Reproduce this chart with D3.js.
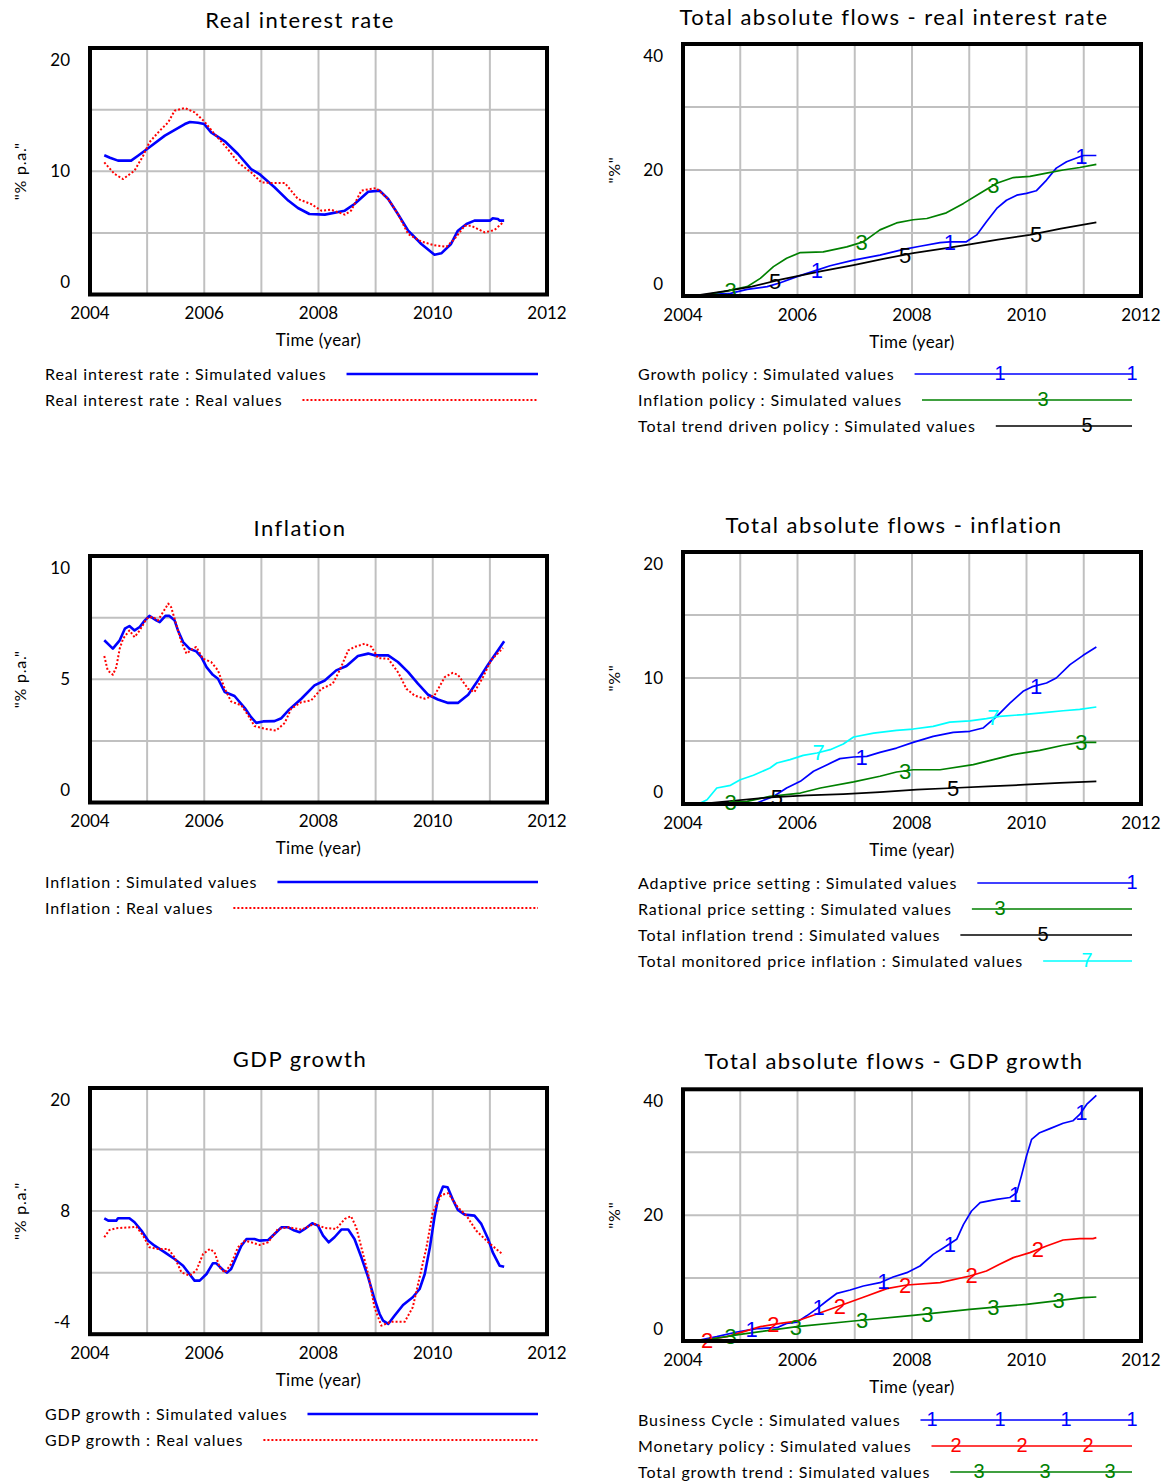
<!DOCTYPE html>
<html>
<head>
<meta charset="utf-8">
<script src="https://cdn.jsdelivr.net/npm/d3@7"></script>
<style>
  body { margin: 0; background: #fff; }
  text { font-family: Lato, "Open Sans", sans-serif; fill: #000; }
  .digit { font-family: "Liberation Sans", Arial, sans-serif; }
</style>
</head>
<body>
<svg id="chart" width="1168" height="1483"></svg>
<script>
// ---- axis labels ----
const xTickLabels = [2004, 2006, 2008, 2010, 2012];
const yTicksRate = ["20", "10", "0"];
const yTicksFlows40 = ["40", "20", "0"];
const yTicksInflation = ["10", "5", "0"];
const yTicksFlows20 = ["20", "10", "0"];
const yTicksGdp = ["20", "8", "-4"];

// ---- Real interest rate (% p.a.) ----
const realRateSim = [[2004.25,11.3],[2004.35,11.1],[2004.49,10.86],[2004.72,10.86],[2004.84,11.26],[2005.0,11.8],[2005.31,12.89],[2005.66,13.83],[2005.75,14.0],[2005.89,13.94],[2006.0,13.83],[2006.12,13.16],[2006.36,12.43],[2006.59,11.4],[2006.82,10.18],[2006.98,9.72],[2007.23,8.7],[2007.47,7.62],[2007.64,7.02],[2007.84,6.53],[2008.11,6.48],[2008.46,6.8],[2008.63,7.34],[2008.87,8.34],[2009.07,8.43],[2009.22,7.75],[2009.39,6.53],[2009.57,5.18],[2009.8,4.1],[2010.03,3.23],[2010.15,3.34],[2010.32,4.1],[2010.44,5.18],[2010.59,5.72],[2010.73,5.99],[2011.0,5.99],[2011.05,6.18],[2011.14,6.13],[2011.17,5.99],[2011.25,5.99]];
const realRateReal = [[2004.25,10.72],[2004.43,9.78],[2004.58,9.37],[2004.78,10.05],[2004.93,11.26],[2005.04,12.35],[2005.22,13.29],[2005.37,13.97],[2005.48,14.91],[2005.66,15.13],[2005.83,14.78],[2006.0,14.05],[2006.18,13.02],[2006.41,11.81],[2006.59,10.72],[2006.82,9.91],[2007.0,9.1],[2007.17,9.05],[2007.41,9.05],[2007.64,7.75],[2007.87,7.34],[2008.05,6.8],[2008.22,6.88],[2008.46,6.48],[2008.57,6.8],[2008.75,8.43],[2009.01,8.64],[2009.22,7.75],[2009.39,6.53],[2009.57,4.9],[2009.8,4.3],[2010.03,3.99],[2010.24,3.88],[2010.38,4.5],[2010.56,5.58],[2010.67,5.58],[2010.91,5.04],[2011.08,5.23],[2011.23,5.85]];

// ---- Total absolute flows - real interest rate (%) ----
const growthPolicy = [[2004.27,0.16],[2004.83,0.42],[2005.12,1.06],[2005.47,1.48],[2005.70,2.1],[2005.99,3.07],[2006.34,4.1],[2006.57,4.8],[2006.98,5.7],[2007.44,6.5],[2007.85,7.4],[2008.14,7.9],[2008.49,8.47],[2008.66,8.6],[2008.95,8.6],[2009.13,9.7],[2009.30,11.8],[2009.48,13.9],[2009.65,15.2],[2009.83,16.0],[2010.0,16.3],[2010.17,16.7],[2010.35,18.4],[2010.52,20.3],[2010.70,21.3],[2010.93,22.1],[2011.0,22.3],[2011.22,22.3]];
const inflationPolicy = [[2004.27,0],[2004.71,0.7],[2005.12,1.48],[2005.35,2.8],[2005.58,4.66],[2005.81,6.0],[2006.05,6.9],[2006.45,7.0],[2006.86,7.8],[2007.15,8.6],[2007.44,10.5],[2007.73,11.6],[2008.02,12.1],[2008.26,12.3],[2008.6,13.2],[2008.9,14.7],[2009.19,16.3],[2009.48,17.9],[2009.77,18.8],[2010.06,19.0],[2010.35,19.5],[2010.64,20.0],[2010.93,20.4],[2011.22,20.9]];
const trendPolicy = [[2004.27,0.15],[2004.8,0.85],[2005.2,1.5],[2005.7,2.6],[2006.4,3.9],[2006.98,4.9],[2007.5,5.9],[2008.02,6.8],[2008.6,7.6],[2009.01,8.2],[2009.5,8.95],[2010.06,9.7],[2010.6,10.7],[2011.22,11.7]];

// ---- Inflation (% p.a.) ----
const inflationSim = [[2004.25,6.58],[2004.40,6.24],[2004.52,6.58],[2004.61,7.05],[2004.69,7.16],[2004.78,6.98],[2004.87,7.12],[2004.96,7.39],[2005.04,7.57],[2005.16,7.39],[2005.22,7.32],[2005.32,7.57],[2005.39,7.57],[2005.48,7.39],[2005.54,6.98],[2005.63,6.51],[2005.74,6.24],[2005.86,6.13],[2005.95,5.9],[2006.04,5.49],[2006.15,5.18],[2006.24,5.02],[2006.36,4.48],[2006.53,4.32],[2006.71,3.83],[2006.82,3.46],[2006.91,3.23],[2007.03,3.29],[2007.23,3.3],[2007.35,3.42],[2007.47,3.73],[2007.70,4.21],[2007.93,4.75],[2008.11,4.95],[2008.31,5.36],[2008.49,5.54],[2008.69,5.94],[2008.87,6.04],[2008.98,5.97],[2009.22,5.97],[2009.39,5.7],[2009.57,5.29],[2009.74,4.82],[2009.92,4.37],[2010.09,4.18],[2010.27,4.04],[2010.44,4.04],[2010.62,4.37],[2010.79,4.95],[2010.97,5.6],[2011.14,6.17],[2011.25,6.54]];
const inflationReal = [[2004.25,5.94],[2004.31,5.36],[2004.40,5.18],[2004.46,5.49],[2004.52,6.24],[2004.58,6.65],[2004.69,6.98],[2004.78,6.71],[2004.87,6.98],[2004.99,7.46],[2005.10,7.53],[2005.19,7.39],[2005.28,7.73],[2005.37,8.07],[2005.42,7.93],[2005.48,7.46],[2005.60,6.51],[2005.69,6.04],[2005.80,6.24],[2005.86,6.31],[2005.98,5.83],[2006.12,5.7],[2006.24,5.36],[2006.36,4.61],[2006.47,4.1],[2006.65,3.94],[2006.77,3.53],[2006.88,3.1],[2007.06,2.99],[2007.26,2.92],[2007.41,3.23],[2007.52,3.8],[2007.70,4.07],[2007.87,4.14],[2008.05,4.61],[2008.25,4.82],[2008.37,5.36],[2008.52,6.17],[2008.63,6.31],[2008.81,6.44],[2008.93,6.31],[2009.04,5.86],[2009.22,5.83],[2009.39,5.29],[2009.54,4.61],[2009.68,4.34],[2009.86,4.21],[2010.03,4.34],[2010.21,5.09],[2010.35,5.26],[2010.44,5.18],[2010.62,4.61],[2010.73,4.48],[2010.88,5.09],[2011.02,5.77],[2011.23,6.27]];

// ---- Total absolute flows - inflation (%) ----
const adaptivePrice = [[2004.27,0],[2005.29,0.08],[2005.58,0.6],[2005.81,1.27],[2006.05,1.8],[2006.28,2.6],[2006.51,3.1],[2006.74,3.6],[2006.98,3.73],[2007.21,3.78],[2007.44,4.1],[2007.73,4.44],[2008.02,4.89],[2008.37,5.37],[2008.72,5.69],[2009.01,5.77],[2009.24,6.03],[2009.48,6.96],[2009.71,8.0],[2009.94,8.94],[2010.12,9.34],[2010.35,9.6],[2010.52,10.0],[2010.76,11.06],[2010.99,11.8],[2011.22,12.46]];
const rationalPrice = [[2004.27,0],[2005.12,0.21],[2005.52,0.6],[2006.05,0.87],[2006.40,1.27],[2006.98,1.75],[2007.44,2.2],[2007.73,2.54],[2008.02,2.72],[2008.49,2.72],[2009.07,3.12],[2009.42,3.52],[2009.77,3.92],[2010.23,4.26],[2010.64,4.66],[2010.93,4.89],[2011.22,4.89]];
const inflationTrend = [[2004.27,0],[2005.52,0.53],[2006.16,0.69],[2006.80,0.79],[2007.44,0.95],[2008.08,1.14],[2008.72,1.27],[2009.33,1.4],[2009.97,1.53],[2010.58,1.67],[2011.22,1.8]];
const monitoredPrice = [[2004.27,0],[2004.42,0.34],[2004.59,1.27],[2004.83,1.48],[2005.0,1.93],[2005.23,2.28],[2005.52,2.86],[2005.64,3.25],[2005.87,3.52],[2006.1,3.86],[2006.34,4.05],[2006.57,4.31],[2006.80,4.76],[2006.98,5.32],[2007.33,5.63],[2007.73,5.85],[2008.02,5.95],[2008.37,6.16],[2008.66,6.5],[2009.01,6.6],[2009.3,6.77],[2009.53,6.96],[2009.94,7.09],[2010.35,7.27],[2010.64,7.4],[2010.93,7.51],[2011.22,7.7]];

// ---- GDP growth (% p.a.) ----
const gdpSim = [[2004.25,7.3],[2004.32,7.07],[2004.46,7.07],[2004.49,7.3],[2004.69,7.3],[2004.78,6.91],[2004.90,6.1],[2005.02,5.12],[2005.13,4.63],[2005.31,3.98],[2005.48,3.33],[2005.63,2.68],[2005.74,1.87],[2005.83,1.22],[2005.92,1.22],[2006.04,1.87],[2006.15,2.91],[2006.21,2.91],[2006.33,2.26],[2006.40,2.0],[2006.47,2.36],[2006.56,3.5],[2006.65,4.63],[2006.74,5.28],[2006.88,5.28],[2006.97,5.12],[2007.12,5.18],[2007.23,5.77],[2007.35,6.42],[2007.47,6.42],[2007.58,6.1],[2007.67,5.94],[2007.76,6.26],[2007.89,6.81],[2007.99,6.58],[2008.08,5.61],[2008.18,4.96],[2008.28,5.45],[2008.40,6.2],[2008.52,6.2],[2008.63,5.28],[2008.75,3.5],[2008.87,1.54],[2008.98,-0.57],[2009.07,-2.03],[2009.13,-2.68],[2009.22,-3.0],[2009.33,-2.2],[2009.48,-1.15],[2009.65,-0.4],[2009.77,0.41],[2009.86,1.87],[2009.95,4.47],[2010.03,7.4],[2010.09,9.19],[2010.18,10.39],[2010.26,10.33],[2010.36,9.02],[2010.44,8.11],[2010.56,7.66],[2010.73,7.56],[2010.85,6.75],[2010.97,5.28],[2011.05,3.98],[2011.17,2.68],[2011.25,2.58]];
const gdpReal = [[2004.25,5.45],[2004.34,6.16],[2004.46,6.33],[2004.72,6.42],[2004.81,6.49],[2004.93,5.61],[2005.04,4.47],[2005.19,4.31],[2005.37,4.31],[2005.48,3.5],[2005.60,2.03],[2005.74,1.71],[2005.86,2.2],[2005.98,3.82],[2006.1,4.31],[2006.18,3.98],[2006.27,2.52],[2006.36,2.0],[2006.47,2.84],[2006.59,4.47],[2006.71,5.12],[2006.82,4.96],[2006.97,4.7],[2007.12,4.96],[2007.29,6.26],[2007.47,6.42],[2007.7,6.2],[2007.93,6.75],[2008.11,6.36],[2008.31,6.26],[2008.46,7.24],[2008.57,7.5],[2008.66,6.42],[2008.75,4.47],[2008.87,1.87],[2008.98,-1.38],[2009.10,-3.17],[2009.27,-2.78],[2009.51,-2.78],[2009.65,-1.38],[2009.77,1.54],[2009.89,4.47],[2010.0,7.89],[2010.15,9.58],[2010.27,9.74],[2010.44,8.37],[2010.59,7.56],[2010.76,6.1],[2010.97,4.96],[2011.23,3.76]];

// ---- Total absolute flows - GDP growth (%) ----
const businessCycle = [[2004.27,0.1],[2004.59,0.69],[2004.94,1.43],[2005.29,1.96],[2005.64,2.12],[2005.81,2.8],[2005.99,3.0],[2006.16,4.0],[2006.34,5.14],[2006.51,6.36],[2006.69,7.58],[2006.92,8.1],[2007.15,8.74],[2007.44,9.27],[2007.67,10.17],[2007.91,10.86],[2008.14,11.92],[2008.37,13.77],[2008.6,15.1],[2008.78,16.16],[2008.90,18.54],[2009.04,20.66],[2009.19,21.99],[2009.48,22.5],[2009.71,22.8],[2009.83,23.58],[2009.91,26.2],[2010.0,29.4],[2010.09,32.05],[2010.23,33.1],[2010.41,33.75],[2010.64,34.6],[2010.81,35.0],[2010.93,36.0],[2011.05,37.6],[2011.22,39.05]];
const monetaryPolicy = [[2004.27,0],[2004.77,0.69],[2005.35,2.28],[2005.70,2.81],[2005.99,3.18],[2006.40,4.5],[2006.86,5.99],[2007.21,7.15],[2007.56,8.32],[2007.91,8.9],[2008.49,9.27],[2009.01,10.33],[2009.30,11.13],[2009.53,12.19],[2009.77,13.25],[2010.06,14.04],[2010.35,15.1],[2010.64,16.05],[2010.93,16.26],[2011.16,16.26],[2011.22,16.42]];
const growthTrend = [[2004.27,0],[2005.0,1.06],[2005.99,2.28],[2006.98,3.18],[2008.02,4.08],[2009.01,5.03],[2010.0,5.83],[2010.99,6.89],[2011.22,6.99]];

const BLUE = "#0000ff", RED = "#ff0000", GREEN = "#008000", BLACK = "#000000", CYAN = "#00ffff";

// ---- panel layout ----
const panels = [
  { title: "Real interest rate", titleX: 300, titleY: 28,
    left: 90, right: 547, top: 48, bottom: 294.5, yDomain: [0, 20], yTicks: yTicksRate,
    yLabel: "\"% p.a.\"", yLabelX: 20, tickRight: 70, legendX: 45, legendY: 374, legendEnd: 538,
    series: [
      { name: "Real interest rate : Simulated values", data: realRateSim, color: BLUE, width: 2.6 },
      { name: "Real interest rate : Real values", data: realRateReal, color: RED, width: 2, dash: "2,2" }
    ] },
  { title: "Total absolute flows - real interest rate", titleX: 894, titleY: 25,
    left: 683, right: 1141, top: 44, bottom: 296, yDomain: [0, 40], yTicks: yTicksFlows40,
    yLabel: "\"%\"", yLabelX: 614, tickRight: 663, legendX: 638, legendY: 374, legendEnd: 1132,
    series: [
      { name: "Growth policy : Simulated values", data: growthPolicy, color: BLUE, width: 1.7, digit: "1", marks: [2006.34, 2008.66, 2010.96], legendMarks: [1000, 1132] },
      { name: "Inflation policy : Simulated values", data: inflationPolicy, color: GREEN, width: 1.7, digit: "3", marks: [2004.83, 2007.12, 2009.42], legendMarks: [1043] },
      { name: "Total trend driven policy : Simulated values", data: trendPolicy, color: BLACK, width: 1.7, digit: "5", marks: [2005.61, 2007.88, 2010.17], legendMarks: [1087] }
    ] },
  { title: "Inflation", titleX: 300, titleY: 536,
    left: 90, right: 547, top: 556, bottom: 802.5, yDomain: [0, 10], yTicks: yTicksInflation,
    yLabel: "\"% p.a.\"", yLabelX: 20, tickRight: 70, legendX: 45, legendY: 882, legendEnd: 538,
    series: [
      { name: "Inflation : Simulated values", data: inflationSim, color: BLUE, width: 2.6 },
      { name: "Inflation : Real values", data: inflationReal, color: RED, width: 2, dash: "2,2" }
    ] },
  { title: "Total absolute flows - inflation", titleX: 894, titleY: 533,
    left: 683, right: 1141, top: 552, bottom: 804, yDomain: [0, 20], yTicks: yTicksFlows20,
    yLabel: "\"%\"", yLabelX: 614, tickRight: 663, legendX: 638, legendY: 883, legendEnd: 1132,
    series: [
      { name: "Adaptive price setting : Simulated values", data: adaptivePrice, color: BLUE, width: 1.7, digit: "1", marks: [2007.12, 2010.17], legendMarks: [1132] },
      { name: "Rational price setting : Simulated values", data: rationalPrice, color: GREEN, width: 1.7, digit: "3", marks: [2004.83, 2007.88, 2010.96], legendMarks: [1000] },
      { name: "Total inflation trend : Simulated values", data: inflationTrend, color: BLACK, width: 1.7, digit: "5", marks: [2005.64, 2008.72], legendMarks: [1043] },
      { name: "Total monitored price inflation : Simulated values", data: monitoredPrice, color: CYAN, width: 1.7, digit: "7", marks: [2006.37, 2009.42], legendMarks: [1087] }
    ] },
  { title: "GDP growth", titleX: 300, titleY: 1067,
    left: 90, right: 547, top: 1088, bottom: 1334.2, yDomain: [-4, 20], yTicks: yTicksGdp,
    yLabel: "\"% p.a.\"", yLabelX: 20, tickRight: 70, legendX: 45, legendY: 1414, legendEnd: 538,
    series: [
      { name: "GDP growth : Simulated values", data: gdpSim, color: BLUE, width: 2.6 },
      { name: "GDP growth : Real values", data: gdpReal, color: RED, width: 2, dash: "2,2" }
    ] },
  { title: "Total absolute flows - GDP growth", titleX: 894, titleY: 1069,
    left: 683, right: 1141, top: 1089.3, bottom: 1341, yDomain: [0, 40], yTicks: yTicksFlows40,
    yLabel: "\"%\"", yLabelX: 614, tickRight: 663, legendX: 638, legendY: 1420, legendEnd: 1132,
    series: [
      { name: "Business Cycle : Simulated values", data: businessCycle, color: BLUE, width: 1.7, digit: "1", marks: [2005.2, 2006.37, 2007.5, 2008.66, 2009.8, 2010.96], legendMarks: [932, 1000, 1066, 1132] },
      { name: "Monetary policy : Simulated values", data: monetaryPolicy, color: RED, width: 1.7, digit: "2", marks: [2004.42, 2005.58, 2006.74, 2007.88, 2009.04, 2010.2], legendMarks: [956, 1022, 1088] },
      { name: "Total growth trend : Simulated values", data: growthTrend, color: GREEN, width: 1.7, digit: "3", marks: [2004.83, 2005.97, 2007.13, 2008.27, 2009.42, 2010.56], legendMarks: [979, 1045, 1110] }
    ] }
];

const svg = d3.select("#chart");

// value of a series at time t, along its drawn polyline
function valueAt(data, t) {
  const i = d3.bisector(d => d[0]).left(data, t);
  if (i <= 0) return data[0][1];
  if (i >= data.length) return data[data.length - 1][1];
  const a = data[i - 1], b = data[i];
  return a[1] + (b[1] - a[1]) * (t - a[0]) / (b[0] - a[0]);
}

function drawPanel(p) {
  const g = svg.append("g");
  const x = d3.scaleLinear().domain([2004, 2012]).range([p.left, p.right]);
  const y = d3.scaleLinear().domain(p.yDomain).range([p.bottom, p.top]);
  const [y0, y1] = p.yDomain;
  const quarter = (y1 - y0) / 4;

  // grid
  g.selectAll(".vgrid").data(d3.range(2005, 2012)).join("line")
    .attr("x1", d => x(d)).attr("x2", d => x(d))
    .attr("y1", p.top).attr("y2", p.bottom)
    .attr("stroke", "#c0c0c0").attr("stroke-width", 2);
  g.selectAll(".hgrid").data([1, 2, 3].map(k => y0 + k * quarter)).join("line")
    .attr("x1", p.left).attr("x2", p.right)
    .attr("y1", d => y(d)).attr("y2", d => y(d))
    .attr("stroke", "#c0c0c0").attr("stroke-width", 2);

  // series lines
  const line = d3.line().x(d => x(d[0])).y(d => y(d[1]));
  p.series.forEach(s => {
    g.append("path").datum(s.data)
      .attr("d", line)
      .attr("fill", "none")
      .attr("stroke", s.color)
      .attr("stroke-width", s.width)
      .attr("stroke-dasharray", s.dash || null)
      .attr("stroke-linejoin", "round");
  });

  // numbered series markers
  p.series.forEach(s => {
    if (!s.digit) return;
    g.selectAll(null).data(s.marks).join("text")
      .attr("class", "digit")
      .attr("x", t => x(t))
      .attr("y", t => y(valueAt(s.data, t)))
      .attr("dy", "0.36em")
      .attr("text-anchor", "middle")
      .style("font-size", "22px")
      .style("fill", s.color)
      .text(s.digit);
  });

  // frame
  g.append("rect")
    .attr("x", p.left).attr("y", p.top)
    .attr("width", p.right - p.left).attr("height", p.bottom - p.top)
    .attr("fill", "none").attr("stroke", "#000").attr("stroke-width", 4);

  // y tick labels: top, middle, bottom of the value range
  const yVals = [y1, (y0 + y1) / 2, y0];
  const yShift = [12, 0, -12];
  g.selectAll(".ytick").data(p.yTicks).join("text")
    .attr("x", p.tickRight)
    .attr("y", (d, i) => y(yVals[i]) + yShift[i])
    .attr("dy", "0.35em")
    .attr("text-anchor", "end")
    .style("font-size", "17px")
    .text(d => d);

  // x tick labels
  g.selectAll(".xtick").data(xTickLabels).join("text")
    .attr("x", d => x(d))
    .attr("y", p.bottom + 19)
    .attr("dy", "0.35em")
    .attr("text-anchor", "middle")
    .style("font-size", "17px")
    .text(d => d);

  g.append("text")
    .attr("x", (p.left + p.right) / 2)
    .attr("y", p.bottom + 46)
    .attr("dy", "0.35em")
    .attr("text-anchor", "middle")
    .style("font-size", "17px")
    .style("letter-spacing", "0.3px")
    .text("Time (year)");

  // y axis label
  g.append("text")
    .attr("transform", `translate(${p.yLabelX},${(p.top + p.bottom) / 2}) rotate(-90)`)
    .attr("dy", "0.35em")
    .attr("text-anchor", "middle")
    .style("font-size", "16px")
    .style("letter-spacing", "0.8px")
    .text(p.yLabel);

  // title
  g.append("text")
    .attr("x", p.titleX).attr("y", p.titleY)
    .attr("text-anchor", "middle")
    .style("font-size", "22px")
    .style("letter-spacing", "1.45px")
    .text(p.title);

  // legend
  p.series.forEach((s, i) => {
    const ly = p.legendY + i * 26;
    const label = g.append("text")
      .attr("x", p.legendX).attr("y", ly)
      .attr("dy", "0.35em")
      .style("font-size", "16px")
      .style("letter-spacing", "0.9px")
      .text(s.name);
    const start = p.legendX + label.node().getComputedTextLength() + 20;
    g.append("line")
      .attr("x1", start).attr("x2", p.legendEnd)
      .attr("y1", ly).attr("y2", ly)
      .attr("stroke", s.color)
      .attr("stroke-width", s.width)
      .attr("stroke-dasharray", s.dash || null);
    if (s.digit) {
      g.selectAll(null).data(s.legendMarks).join("text")
        .attr("class", "digit")
        .attr("x", d => d).attr("y", ly)
        .attr("dy", "0.3em")
        .attr("text-anchor", "middle")
        .style("font-size", "20px")
        .style("fill", s.color)
        .text(s.digit);
    }
  });
}

panels.forEach(drawPanel);
</script>
</body>
</html>
